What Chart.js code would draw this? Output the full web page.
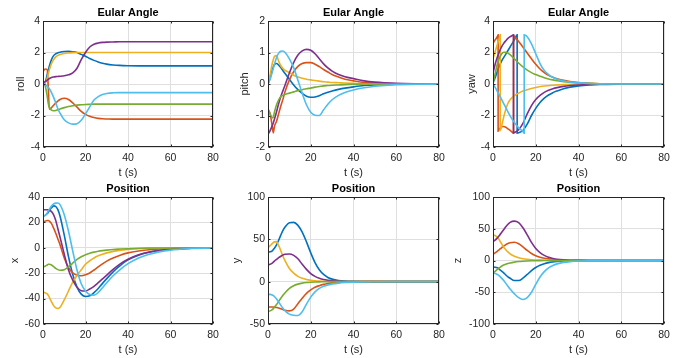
<!DOCTYPE html>
<html><head><meta charset="utf-8">
<script src="https://cdn.jsdelivr.net/npm/chart.js@4.4.0/dist/chart.umd.min.js"></script>
<style>
html,body{margin:0;padding:0;background:#fff;width:694px;height:358px;overflow:hidden}
body{position:relative}
canvas{position:absolute}
</style></head><body>
<canvas id="c0" width="225" height="180" style="left:0px;top:0px"></canvas>
<canvas id="c1" width="225" height="180" style="left:225px;top:0px"></canvas>
<canvas id="c2" width="244" height="180" style="left:450px;top:0px"></canvas>
<canvas id="c3" width="225" height="181" style="left:0px;top:176px"></canvas>
<canvas id="c4" width="225" height="181" style="left:225px;top:176px"></canvas>
<canvas id="c5" width="244" height="181" style="left:450px;top:176px"></canvas>
<script>
// ---------- data ----------
const T = [0,1,2,2.5,3,4,5,6,7,8,10,12,14,16,18,20,22,24,26,28,30,33,36,40,45,50,60,70,80];
const xTicks = [0,20,40,60,80];

// roll
const rollBlue   = [0,0.1,0.6,0.9,1.15,1.55,1.8,1.92,1.98,2.02,2.06,2.07,2.05,2.0,1.88,1.76,1.62,1.5,1.4,1.32,1.26,1.21,1.18,1.16,1.15,1.15,1.15,1.15,1.15];
const rollOrange = [0.8,0.95,0.9,-0.3,-1.6,-1.5,-1.35,-1.2,-1.08,-0.98,-0.9,-0.98,-1.2,-1.47,-1.74,-1.93,-2.05,-2.13,-2.18,-2.21,-2.22,-2.23,-2.23,-2.23,-2.23,-2.23,-2.23,-2.23,-2.23];
const rollYellow = [0,0.05,0.4,0.65,0.9,1.3,1.55,1.72,1.82,1.88,1.94,1.97,1.99,2.0,2.0,2.0,2.0,2.0,2.0,2.0,2.0,2.0,2.0,2.0,2.0,2.0,2.0,2.0,2.0];
const rollPurple = [0.05,0.15,0.25,0.3,0.35,0.42,0.45,0.47,0.48,0.49,0.52,0.58,0.7,1.0,1.55,2.0,2.35,2.52,2.6,2.64,2.66,2.67,2.68,2.68,2.68,2.68,2.68,2.68,2.68];
const rollGreen  = [0,-0.1,-0.8,-1.25,-1.5,-1.66,-1.7,-1.68,-1.63,-1.58,-1.5,-1.43,-1.38,-1.34,-1.32,-1.3,-1.29,-1.28,-1.28,-1.28,-1.28,-1.28,-1.28,-1.28,-1.28,-1.28,-1.28,-1.28,-1.28];
const rollLBlue  = [0,-0.05,-0.15,-0.22,-0.3,-0.55,-0.85,-1.2,-1.57,-1.85,-2.27,-2.47,-2.55,-2.52,-2.3,-1.9,-1.45,-1.02,-0.8,-0.67,-0.6,-0.56,-0.55,-0.55,-0.55,-0.55,-0.55,-0.55,-0.55];
const rollTicks = [-4,-2,0,2,4];

// pitch
const pitchBlue   = [0,0.2,0.45,0.55,0.62,0.65,0.6,0.52,0.42,0.33,0.15,-0.03,-0.18,-0.3,-0.39,-0.42,-0.41,-0.37,-0.31,-0.26,-0.22,-0.17,-0.13,-0.09,-0.05,-0.03,-0.01,0,0];
const pitchOrange = [-0.8,-0.95,-1.35,-1.55,-1.35,-1.18,-0.94,-0.7,-0.48,-0.24,0.13,0.39,0.56,0.65,0.68,0.68,0.63,0.55,0.46,0.38,0.3,0.22,0.15,0.1,0.05,0.03,0.01,0,0];
const pitchYellow = [0,0.3,0.65,0.78,0.87,0.9,0.72,0.58,0.49,0.43,0.36,0.28,0.22,0.18,0.15,0.13,0.11,0.09,0.07,0.06,0.05,0.04,0.03,0.02,0.01,0.01,0,0,0];
const pitchPurple = [-1.6,-1.48,-1.32,-1.23,-1.12,-0.88,-0.62,-0.4,-0.21,-0.03,0.35,0.68,0.92,1.05,1.1,1.07,0.96,0.8,0.64,0.51,0.41,0.3,0.23,0.17,0.1,0.06,0.02,0.005,0];
const pitchGreen  = [-0.8,-0.95,-1.08,-1.05,-0.9,-0.66,-0.5,-0.4,-0.36,-0.33,-0.29,-0.25,-0.21,-0.18,-0.15,-0.13,-0.1,-0.08,-0.06,-0.05,-0.04,-0.03,-0.02,-0.01,0,0,0,0,0];
const pitchLBlue  = [0,0.15,0.38,0.5,0.62,0.84,0.98,1.04,1.05,1.0,0.8,0.52,0.12,-0.29,-0.66,-0.9,-0.99,-1.0,-0.82,-0.64,-0.5,-0.36,-0.27,-0.19,-0.12,-0.07,-0.02,-0.01,0];
const pitchTicks = [-2,-1,0,1,2];

// yaw (each series has its own time points because of the +/-pi wraps)
const yawBlueT   = [0,1,2,3,4,6,8,10,11.3,11.3,12,14,16,18,20,22,24,26,28,30,33,36,40,45,50,60,80];
const yawBlue    = [0.1,0.4,0.8,1.15,1.45,1.9,2.35,2.8,3.12,-3.12,-3.1,-2.95,-2.55,-2.0,-1.55,-1.18,-0.9,-0.7,-0.55,-0.44,-0.3,-0.2,-0.12,-0.06,-0.03,-0.01,0];
const yawOrangeT = [0,1,2,2.4,2.4,3,4,5,6,7,8,9,9.6,9.6,10,12,14,16,18,20,22,24,26,28,30,33,36,40,45,50,60,80];
const yawOrange  = [2.6,2.8,3.0,3.12,-3.0,-2.85,-2.72,-2.7,-2.75,-2.85,-2.95,-3.06,-3.12,3.1,3.02,2.7,2.35,1.97,1.6,1.25,0.95,0.72,0.55,0.43,0.34,0.23,0.16,0.1,0.05,0.02,0.01,0];
const yawYellowT = [0,1,2,3,3.4,3.4,4,5,6,7,8,10,12,14,16,18,20,24,28,33,40,50,60,80];
const yawYellow  = [1.6,2.05,2.5,2.92,3.12,-2.95,-2.7,-2.1,-1.6,-1.22,-1.0,-0.74,-0.58,-0.45,-0.36,-0.28,-0.22,-0.13,-0.08,-0.04,-0.02,0,0,0];
const yawPurpleT = [0,1,2,3,4,5,6,7,8,9,9.6,9.6,10,12,14,16,18,20,22,24,26,28,30,33,36,40,45,50,60,80];
const yawPurple  = [0.7,1.25,1.7,2.05,2.35,2.58,2.75,2.9,3.0,3.08,3.12,-3.1,-3.08,-2.9,-2.5,-1.9,-1.37,-0.98,-0.72,-0.53,-0.4,-0.3,-0.23,-0.15,-0.1,-0.06,-0.03,-0.01,0,0];
const yawGreenT  = [0,1,2,3,4,5,6,7,8,10,12,14,16,18,20,22,24,26,28,30,33,36,40,45,50,60,80];
const yawGreen   = [0,0.65,1.25,1.65,1.9,2.02,2.02,1.96,1.86,1.6,1.33,1.08,0.88,0.72,0.6,0.49,0.4,0.32,0.26,0.21,0.15,0.11,0.07,0.04,0.02,0.01,0];
const yawLBlueT  = [0,1,2,3,4,5,6,7,8,10,12,14,14.6,14.6,15,16,18,20,22,24,26,28,30,33,36,40,45,50,60,80];
const yawLBlue   = [0,-0.22,-0.46,-0.72,-0.98,-1.24,-1.5,-1.77,-2.03,-2.45,-2.78,-3.02,-3.12,3.12,3.1,3.0,2.55,1.92,1.3,0.85,0.6,0.43,0.3,0.19,0.12,0.07,0.03,0.01,0,0];
const yawTicks = [-4,-2,0,2,4];

// position x
const xBlue   = [25,25.5,27,28,29.5,31.5,33,32.5,30,25,10,-7,-21,-31,-36.5,-38.3,-37.8,-35.3,-32,-28,-24.3,-19,-14.5,-9.5,-5.8,-3.5,-1.2,-0.4,0];
const xOrange = [20,21,21.5,21.5,21,19,15.5,11.5,7,2.5,-8,-15.5,-19.8,-21.6,-22,-21.3,-19.8,-17.5,-15,-12.6,-10.5,-8,-6,-4,-2.5,-1.5,-0.5,-0.2,0];
const xYellow = [-35,-35.3,-36.3,-37.5,-39,-42.5,-45.5,-47.3,-47.8,-46.8,-41,-34,-27,-21.8,-17.3,-13,-10.2,-8,-6.3,-5,-4,-2.8,-2,-1.3,-0.7,-0.4,-0.1,0,0];
const xPurple = [30,30,30,29.8,29.5,28.5,26,21.5,15,8.5,-5,-17.5,-25.5,-31,-33.8,-34,-32.5,-30.3,-27.5,-24.5,-21.5,-17,-13,-9,-5.5,-3.3,-1.1,-0.4,0];
const xGreen  = [-15,-14.5,-13.5,-13,-13,-13.5,-14.8,-16.2,-17.2,-17.7,-17.3,-15,-12,-9.2,-7,-5.5,-4.3,-3.4,-2.7,-2.2,-1.8,-1.3,-1,-0.7,-0.4,-0.2,-0.1,0,0];
const xLBlue  = [25,25.5,27.5,29,30.5,33,34.5,35.2,35.3,34,26,13,-2.5,-17.5,-28.3,-34,-36.8,-37.3,-35.2,-31.5,-27.5,-22,-17.5,-12.5,-8,-5,-1.8,-0.6,-0.1];
const xPosTicks = [-60,-40,-20,0,20,40];

// position y
const yBlue   = [35,35.3,36.5,38,39.5,43.5,49,55,60.5,64.5,69.5,70,66.5,58.5,47,34,22.5,14,8.5,5,3,1.4,0.7,0.3,0.1,0,0,0,0];
const yOrange = [-30,-30,-30,-30,-30.2,-30.5,-31,-32,-33,-33.8,-34.5,-32.5,-26,-19.5,-13.8,-9.7,-6.6,-4.7,-3.2,-2.1,-1.4,-0.7,-0.35,-0.1,0,0,0,0,0];
const yYellow = [40,42.5,45,46.2,47,47.3,42.5,36.5,30,24.5,15.5,10,6.3,4,2.6,1.7,1.1,0.7,0.45,0.3,0.2,0.1,0.05,0,0,0,0,0,0];
const yPurple = [20,20.5,22,23,24.3,26.3,28.3,30,31.5,32.3,32.6,31,27,20.5,14.5,9.5,6.2,4,2.5,1.6,1,0.5,0.25,0.1,0,0,0,0,0];
const yGreen  = [-35,-34.5,-33,-31.8,-30.3,-27,-23.3,-19.5,-16,-13,-8,-4.8,-2.9,-1.7,-1,-0.6,-0.35,-0.2,-0.1,0,0,0,0,0,0,0,0,0,0];
const yLBlue  = [-15,-15,-15.7,-16.5,-17.5,-20.5,-24,-28,-31.5,-34.5,-38.3,-39.7,-40,-35.5,-26.5,-18.3,-12,-8,-5.5,-3.8,-2.8,-1.7,-1,-0.5,-0.2,-0.1,0,0,0];
const yPosTicks = [-50,0,50,100];

// position z
const zBlue   = [-10,-10.5,-11.5,-12.5,-13.8,-16.8,-19.5,-22.8,-25.8,-28,-31.5,-31.5,-27.8,-22,-16,-11,-7.5,-5,-3.3,-2.2,-1.5,-0.8,-0.4,-0.2,-0.05,0,0,0,0];
const zOrange = [10,12,14.5,15.8,17.2,20,22.5,25,26.8,28,28.8,26.5,21.5,15.8,11,7.5,5.2,3.6,2.5,1.8,1.3,0.7,0.4,0.2,0.05,0,0,0,0];
const zYellow = [40,39.5,36.5,34.5,32,26.5,21,17,13.5,10.5,6.8,4.3,2.8,1.9,1.3,0.9,0.6,0.4,0.25,0.15,0.1,0,0,0,0,0,0,0,0];
const zPurple = [30,32,35.5,37.5,39.5,44,48.5,53,57,60,62,59.5,51.5,40.5,28.5,19,12.5,8,5,3.2,2,1,0.5,0.2,0.05,0,0,0,0];
const zGreen  = [-20,-17,-14,-12.5,-11.3,-9,-7.2,-5.9,-4.8,-3.9,-2.6,-1.7,-1.1,-0.7,-0.45,-0.3,-0.2,-0.1,0,0,0,0,0,0,0,0,0,0,0];
const zLBlue  = [-20,-20.5,-22,-23,-24.3,-27.8,-31.5,-36,-40.5,-45,-52.5,-58.5,-61.3,-58.5,-50,-37.5,-26,-17.5,-11.5,-7.8,-5.3,-3,-1.7,-0.8,-0.3,-0.1,0,0,0];
const zPosTicks = [-100,-50,0,50,100];

// ---------- drawing ----------
const COLORS = ['#0072BD','#D95319','#EDB120','#7E2F8E','#77AC30','#4DBEEE'];
const FONT = "'Liberation Sans', Arial, Helvetica, sans-serif";
const TXT = '#262626';

const boxPlugin = {
  id: 'matlabBox',
  afterDatasetsDraw(chart) {
    const {ctx, chartArea: a, scales} = chart;
    const L = Math.round(a.left) + 0.5, R = Math.round(a.right) - 0.5;
    const Tp = Math.round(a.top) + 0.5, B = Math.round(a.bottom) - 0.5;
    ctx.save();
    ctx.strokeStyle = TXT; ctx.lineWidth = 1;
    ctx.beginPath();
    scales.x.ticks.forEach(t => {
      const px = Math.round(scales.x.getPixelForValue(t.value)) + 0.5;
      ctx.moveTo(px, B); ctx.lineTo(px, B - 2);
      ctx.moveTo(px, Tp); ctx.lineTo(px, Tp + 2);
    });
    scales.y.ticks.forEach(t => {
      const py = Math.round(scales.y.getPixelForValue(t.value)) + 0.5;
      ctx.moveTo(L, py); ctx.lineTo(L + 2, py);
      ctx.moveTo(R, py); ctx.lineTo(R - 2, py);
    });
    ctx.stroke();
    ctx.strokeRect(L, Tp, R - L, B - Tp);
    ctx.restore();
  }
};

function makeChart(id, title, ylabel, yTicks, series, g) {
  const datasets = series.map((s, i) => ({
    data: s.t.map((t, k) => ({x: t, y: s.v[k]})),
    borderColor: COLORS[i],
    borderWidth: 1.6,
    pointRadius: 0,
    fill: false,
    cubicInterpolationMode: 'monotone',
    order: 5 - i
  }));
  new Chart(document.getElementById(id), {
    type: 'line',
    data: {datasets},
    plugins: [boxPlugin],
    options: {
      responsive: false, animation: false, events: [],
      layout: {padding: {left: g.padL, right: g.padR, top: 0, bottom: 0}},
      plugins: {
        legend: {display: false}, tooltip: {enabled: false},
        title: {display: true, text: title, fullSize: false, color: '#000',
                font: {family: FONT, size: 11, weight: 'bold', lineHeight: 1.2},
                padding: {top: g.tPadTop, bottom: 21 - 13.2 - g.tPadTop}}
      },
      scales: {
        x: {
          type: 'linear', min: 0, max: 80,
          afterBuildTicks: s => { s.ticks = xTicks.map(v => ({value: v})); },
          afterFit: s => { s.height = 33; },
          grid: {color: '#dfdfdf', drawTicks: false, lineWidth: 1},
          border: {display: false},
          ticks: {padding: 5, color: TXT, maxRotation: 0, autoSkip: false,
                  font: {family: FONT, size: 10.5}},
          title: {display: true, text: 't (s)', color: TXT, padding: 0,
                  font: {family: FONT, size: 11, lineHeight: 1.2}}
        },
        y: {
          type: 'linear', min: yTicks[0], max: yTicks[yTicks.length - 1],
          afterBuildTicks: s => { s.ticks = yTicks.map(v => ({value: v})); },
          afterFit: s => { s.width = g.yW; },
          grid: {color: '#dfdfdf', drawTicks: false, lineWidth: 1},
          border: {display: false},
          ticks: {padding: 3, color: TXT, autoSkip: false,
                  font: {family: FONT, size: 10.5}},
          title: {display: true, text: ylabel, color: TXT, padding: 0,
                  font: {family: FONT, size: 11, lineHeight: 1.2}}
        }
      }
    }
  });
}

const onT = vs => vs.map(v => ({t: T, v}));

makeChart('c0', 'Eular Angle', 'roll', rollTicks,
  onT([rollBlue, rollOrange, rollYellow, rollPurple, rollGreen, rollLBlue]),
  {padL: 14, yW: 29, padR: 12, tPadTop: 6.1});
makeChart('c1', 'Eular Angle', 'pitch', pitchTicks,
  onT([pitchBlue, pitchOrange, pitchYellow, pitchPurple, pitchGreen, pitchLBlue]),
  {padL: 13.4, yW: 29.6, padR: 11, tPadTop: 6.1});
makeChart('c2', 'Eular Angle', 'yaw', yawTicks,
  [{t: yawBlueT, v: yawBlue}, {t: yawOrangeT, v: yawOrange}, {t: yawYellowT, v: yawYellow},
   {t: yawPurpleT, v: yawPurple}, {t: yawGreenT, v: yawGreen}, {t: yawLBlueT, v: yawLBlue}],
  {padL: 15.1, yW: 27.9, padR: 30, tPadTop: 6.1});
makeChart('c3', 'Position', 'x', xPosTicks,
  onT([xBlue, xOrange, xYellow, xPurple, xGreen, xLBlue]),
  {padL: 8.4, yW: 34.6, padR: 12, tPadTop: 6.7});
makeChart('c4', 'Position', 'y', yPosTicks,
  onT([yBlue, yOrange, yYellow, yPurple, yGreen, yLBlue]),
  {padL: 5.1, yW: 37.9, padR: 11, tPadTop: 6.7});
makeChart('c5', 'Position', 'z', zPosTicks,
  onT([zBlue, zOrange, zYellow, zPurple, zGreen, zLBlue]),
  {padL: 1.1, yW: 41.9, padR: 30, tPadTop: 6.7});
</script>
</body></html>
